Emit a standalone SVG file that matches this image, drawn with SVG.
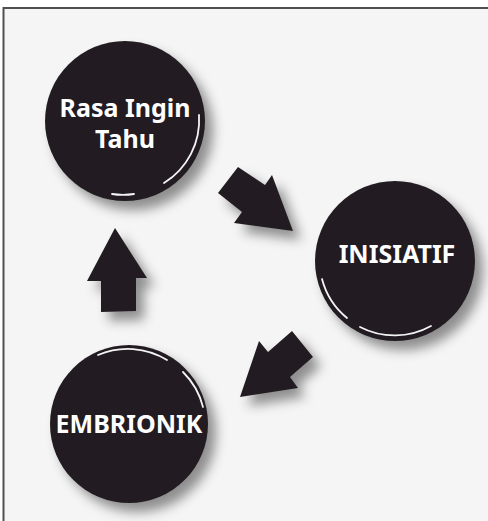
<svg xmlns="http://www.w3.org/2000/svg" width="488" height="521" viewBox="0 0 488 521">
<defs>
<filter id="sh" x="-30%" y="-30%" width="170%" height="170%">
<feDropShadow dx="8" dy="9" stdDeviation="6" flood-color="#000" flood-opacity="0.42"/>
</filter>
<style>
.node{fill:#231f20;filter:url(#sh)}
.arrow{fill:#231f20;filter:url(#sh)}
.hl{fill:none;stroke:#fff;stroke-width:1.8;stroke-linecap:round;opacity:0.95}
.lbl{fill:#fff;font-family:"Noto Sans","Open Sans","DejaVu Sans",sans-serif;font-weight:bold;font-size:25px;text-anchor:middle}
</style>
</defs>
<rect x="0" y="0" width="488" height="521" fill="#fff"/>
<rect x="3.5" y="8" width="500" height="530" fill="#f5f5f5" stroke="#505050" stroke-width="2"/>
<g id="connectors">
<polygon class="arrow" points="238,167 265,185 272,175 293,231 234,223 242,212 218,193"/>
<polygon class="arrow" points="292,331 313,357 290,377 298,388 240,397 259,341 268,352"/>
<polygon class="arrow" points="115,228 147,278 136,278 136,311 101,312 101,281 87,281"/>
</g>
<g id="node-rasa">
<circle class="node" cx="125" cy="121" r="80"/>
<path class="hl" d="M 199 115 A 74 74 0 0 1 164 183"/>
<path class="hl" d="M 112 194 A 74 74 0 0 0 134 194"/>
<text class="lbl" x="125" y="117">Rasa Ingin</text>
<text class="lbl" x="125" y="148">Tahu</text>
</g>
<g id="node-inisiatif">
<circle class="node" cx="395" cy="261" r="80"/>
<path class="hl" d="M 322 279 A 75 75 0 0 0 347 318"/>
<path class="hl" d="M 360 327 A 75 75 0 0 0 431 326"/>
<text class="lbl" x="397" y="263">INISIATIF</text>
</g>
<g id="node-embrionik">
<circle class="node" cx="129" cy="424" r="79"/>
<path class="hl" d="M 98 355 A 75 75 0 0 1 167 360"/>
<path class="hl" d="M 183 372 A 75 75 0 0 1 203 407"/>
<text class="lbl" x="129" y="433">EMBRIONIK</text>
</g>
</svg>
